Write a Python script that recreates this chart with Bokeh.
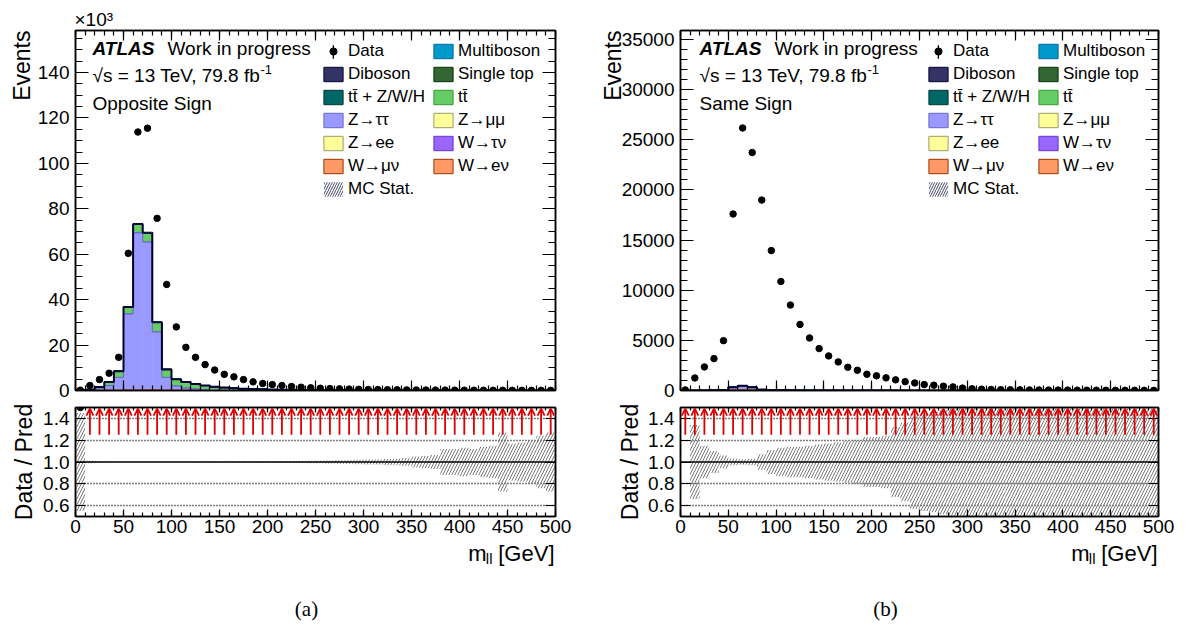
import numpy as np
from bokeh.plotting import figure
from bokeh.models import (Range1d, LinearAxis, FixedTicker, SingleIntervalTicker, Label, Legend,
                          LegendItem, ColumnDataSource, Arrow, OpenHead, Span, NumeralTickFormatter, Title)
from bokeh.layouts import column, row
from bokeh.embed import file_html
from bokeh.resources import INLINE

FONT = "Liberation Sans"

# ---------------- binning ----------------
bin_edges = list(range(0, 501, 10))          # m_ll bins [GeV]
bin_centers = [(a + b) / 2 for a, b in zip(bin_edges[:-1], bin_edges[1:])]

# ---------------- samples (legend order) ----------------
sample_names = ["Multiboson", "Diboson", "Single top", "tt\u0304 + Z/W/H", "tt\u0304",
                "Z\u2192\u03c4\u03c4", "Z\u2192\u03bc\u03bc", "Z\u2192ee",
                "W\u2192\u03c4\u03bd", "W\u2192\u03bc\u03bd", "W\u2192e\u03bd"]
fill_colors = ["#0099cc", "#333366", "#336633", "#006666", "#66cc66",
               "#9999ff", "#ffff99", "#ffff99", "#9966ff", "#ff9966", "#ff9966"]
line_colors = ["#006699", "#000033", "#003300", "#003333", "#339933",
               "#6666cc", "#999966", "#999966", "#6633cc", "#993300", "#993300"]
stack_order = list(reversed(sample_names))   # bottom -> top

# ---------------- (a) Opposite sign, events in units of 10^3 ----------------
data_os = [0.15, 2.2, 4.8, 7.6, 14.6, 60.4, 113.8, 115.5, 75.8, 46.7,
           28.0, 19.0, 14.6, 11.4, 9.0, 7.1, 6.0, 4.8, 3.8, 3.1,
           2.6, 2.2, 1.75, 1.45, 1.2, 1.0, 0.85, 0.72, 0.62, 0.53,
           0.46, 0.40, 0.35, 0.31, 0.27, 0.24, 0.21, 0.19, 0.17, 0.15,
           0.13, 0.12, 0.11, 0.10, 0.09, 0.08, 0.075, 0.07, 0.065, 0.06]
os_ztautau = [0.05, 0.2, 0.6, 2.0, 5.6, 33.5, 69.2, 65.2, 25.6, 5.6,
              1.9, 1.0, 0.6, 0.4, 0.25, 0.2, 0.15, 0.12, 0.1, 0.08,
              0.06, 0.05, 0.04, 0.035, 0.03, 0.025, 0.02, 0.018, 0.015, 0.013,
              0.011, 0.01, 0.009, 0.008, 0.007, 0.006, 0.005, 0.005, 0.004, 0.004,
              0.003, 0.003, 0.003, 0.002, 0.002, 0.002, 0.002, 0.001, 0.001, 0.001]
os_ttbar = [0.03, 0.15, 0.8, 1.5, 2.7, 3.0, 3.8, 4.0, 4.1, 3.5,
            2.8, 2.5, 2.1, 1.7, 1.3, 1.05, 0.82, 0.66, 0.53, 0.41,
            0.35, 0.29, 0.25, 0.21, 0.17, 0.15, 0.13, 0.11, 0.09, 0.08,
            0.07, 0.06, 0.055, 0.05, 0.045, 0.04, 0.035, 0.03, 0.028, 0.025,
            0.022, 0.02, 0.018, 0.016, 0.014, 0.012, 0.011, 0.01, 0.009, 0.008]
os_wmunu = [0.02, 0.05, 0.1, 0.2, 0.2, 0.3, 0.3, 0.3, 0.3, 0.2,
            0.2, 0.2, 0.2, 0.1, 0.05, 0.05, 0.05, 0.04, 0.04, 0.03,
            0.03, 0.03, 0.02, 0.02, 0.02, 0.02, 0.01, 0.01, 0.01, 0.01,
            0.01, 0.005, 0.005, 0.005, 0.005, 0.005, 0.004, 0.004, 0.004, 0.003,
            0.003, 0.003, 0.003, 0.002, 0.002, 0.002, 0.002, 0.002, 0.001, 0.001]
os_stat_relerr = [0.45, 0.012, 0.006, 0.004, 0.003, 0.002, 0.002, 0.002, 0.002, 0.003,
                  0.003, 0.003, 0.004, 0.004, 0.005, 0.005, 0.005, 0.006, 0.006, 0.007,
                  0.007, 0.008, 0.009, 0.01, 0.011, 0.012, 0.013, 0.015, 0.017, 0.02,
                  0.022, 0.024, 0.027, 0.03, 0.035, 0.05, 0.055, 0.065, 0.12, 0.12,
                  0.13, 0.12, 0.14, 0.15, 0.27, 0.17, 0.18, 0.2, 0.24, 0.27]

# ---------------- (b) Same sign, events ----------------
data_ss = [60, 1250, 2350, 3180, 4970, 17600, 26180, 23730, 18990, 13950,
           10870, 8520, 6590, 5240, 4180, 3450, 2850, 2320, 2020, 1620,
           1460, 1260, 1060, 880, 750, 590, 530, 430, 360, 240,
           170, 130, 100, 85, 75, 65, 58, 52, 47, 42,
           38, 34, 31, 28, 25, 23, 21, 19, 17, 15]
ss_ztautau = [0, 0, 3, 10, 25, 230, 360, 230, 35, 8,
              3, 2, 1, 1, 1, 0.5, 0.5, 0.5, 0.3, 0.3,
              0.2, 0.2, 0.2, 0.1, 0.1, 0.1, 0.1, 0.1, 0.05, 0.05,
              0.05, 0.05, 0.03, 0.03, 0.03, 0.02, 0.02, 0.02, 0.02, 0.01,
              0.01, 0.01, 0.01, 0.01, 0.01, 0.01, 0.005, 0.005, 0.005, 0.005]
ss_wmunu = [0, 2, 5, 10, 30, 80, 90, 80, 40, 15,
            8, 5, 4, 3, 2, 2, 1.5, 1.5, 1, 1,
            1, 0.8, 0.6, 0.5, 0.4, 0.3, 0.3, 0.3, 0.2, 0.2,
            0.2, 0.15, 0.15, 0.1, 0.1, 0.1, 0.1, 0.08, 0.08, 0.06,
            0.06, 0.05, 0.05, 0.05, 0.04, 0.04, 0.03, 0.03, 0.03, 0.02]
ss_ttbar = [0, 1, 2, 3, 5, 10, 15, 15, 15, 12,
            10, 8, 6, 5, 4, 3, 3, 2.5, 2, 2,
            1.5, 1.5, 1.2, 1, 1, 0.8, 0.7, 0.6, 0.5, 0.5,
            0.4, 0.4, 0.3, 0.3, 0.25, 0.2, 0.2, 0.2, 0.15, 0.15,
            0.12, 0.1, 0.1, 0.1, 0.08, 0.08, 0.06, 0.06, 0.05, 0.05]
ss_stat_relerr = [0.0, 0.34, 0.15, 0.10, 0.06, 0.03, 0.025, 0.03, 0.07, 0.11,
                  0.13, 0.14, 0.14, 0.15, 0.16, 0.17, 0.18, 0.19, 0.2, 0.23,
                  0.23, 0.24, 0.32, 0.36, 0.43, 0.45, 0.46, 0.48, 0.6, 0.7,
                  0.75, 0.8, 0.85, 0.9, 0.9, 0.95, 1.0, 1.0, 1.0, 1.0,
                  1.0, 1.0, 1.0, 1.0, 1.0, 1.0, 1.0, 1.0, 1.0, 1.0]

os_mc = {"Z\u2192\u03c4\u03c4": os_ztautau, "tt\u0304": os_ttbar, "W\u2192\u03bc\u03bd": os_wmunu}
ss_mc = {"Z\u2192\u03c4\u03c4": ss_ztautau, "tt\u0304": ss_ttbar, "W\u2192\u03bc\u03bd": ss_wmunu}

FC = dict(zip(sample_names, fill_colors))
LC = dict(zip(sample_names, line_colors))


def style_axis(ax, major_in, minor_in, show_labels, standoff=6):
    ax.major_tick_in = major_in
    ax.major_tick_out = 0
    ax.minor_tick_in = minor_in
    ax.minor_tick_out = 0
    ax.axis_line_color = "black"
    ax.axis_line_width = 1.5
    ax.major_tick_line_color = "black"
    ax.minor_tick_line_color = "black"
    ax.major_tick_line_width = 1.2
    ax.minor_tick_line_width = 1.2
    if show_labels:
        ax.major_label_text_font = FONT
        ax.major_label_text_font_size = "19px"
        ax.major_label_text_color = "black"
        ax.major_label_standoff = standoff
    else:
        ax.major_label_text_font_size = "0px"
        ax.major_label_text_alpha = 0
        ax.major_label_standoff = 0


def add_text(p, x, y, text, size="19px", style="normal", align="left", units="screen"):
    p.add_layout(Label(x=x, y=y, x_units=units, y_units=units, text=text,
                       text_font=FONT, text_font_size=size, text_font_style=style,
                       text_align=align, text_baseline="middle", text_color="black"))


def add_title(p, side, text, size="23px", align="center", offset=0, standoff=0):
    p.add_layout(Title(text=text, align=align, offset=offset, standoff=standoff, text_font=FONT,
                       text_font_size=size, text_font_style="normal", text_color="black"), side)


def make_main(data, mc, relerr, err_scale, ymax, y_tick, y_minor, region, fw, bl, br, tdx,
              times_ten, ylab_standoff):
    p = figure(frame_width=fw, frame_height=360, x_range=Range1d(0, 500), y_range=Range1d(0, ymax),
               min_border_left=bl, min_border_right=br, min_border_top=30, min_border_bottom=11,
               output_backend="svg", toolbar_location=None)
    p.background_fill_color = "white"
    p.border_fill_color = "white"
    p.outline_line_color = "black"
    p.outline_line_width = 1.5
    p.xgrid.visible = False
    p.ygrid.visible = False
    xt = SingleIntervalTicker(interval=50, num_minor_ticks=5)
    yt = SingleIntervalTicker(interval=y_tick, num_minor_ticks=y_minor)
    p.xaxis.ticker = xt
    p.yaxis.ticker = yt
    style_axis(p.xaxis[0], 10, 5, False)
    style_axis(p.yaxis[0], 13, 7, True, standoff=6)
    top = LinearAxis(ticker=xt)
    style_axis(top, 10, 5, False)
    p.add_layout(top, "above")
    rgt = LinearAxis(ticker=yt)
    style_axis(rgt, 13, 7, False)
    p.add_layout(rgt, "right")

    lefts = np.array(bin_edges[:-1], dtype=float)
    rights = np.array(bin_edges[1:], dtype=float)
    base = np.zeros(len(lefts))
    caps = {}
    outlines = []
    for name in stack_order:
        vals = np.array(mc[name], dtype=float) if name in mc else np.zeros(len(lefts))
        tops = base + vals
        if vals.any():
            p.quad(left=lefts, right=rights, bottom=base, top=tops,
                   fill_color=FC[name], line_color=FC[name], line_width=0.5)
            outlines.append((name, tops))
        caps[name] = p.quad(left=lefts, right=rights, bottom=tops, top=tops,
                            fill_color=FC[name], line_color=LC[name], line_width=1)
        base = tops
    for name, tops in outlines:
        p.step(x=bin_edges, y=list(tops) + [tops[-1]], mode="after",
               line_color=LC[name], line_width=1)
    total = base
    p.step(x=bin_edges, y=list(total) + [total[-1]], mode="after",
           line_color="#000033", line_width=2)
    rel = np.array(relerr)
    band = p.quad(left=lefts, right=rights, bottom=total * (1 - rel), top=total * (1 + rel),
                  fill_alpha=0, line_alpha=0, hatch_pattern="/", hatch_color="#444466",
                  hatch_scale=5, hatch_weight=1)
    d = np.array(data, dtype=float)
    err = np.sqrt(d * err_scale) / err_scale
    errbar = p.vbar(x=bin_centers, width=0.3, bottom=d - err, top=d + err,
                    fill_color="black", line_alpha=0)
    dots = p.scatter(bin_centers, data, marker="circle", size=6.5, color="black")

    col1 = [("Data", [dots]), ("Diboson", [caps["Diboson"]]),
            ("tt\u0304 + Z/W/H", [caps["tt\u0304 + Z/W/H"]]),
            ("Z\u2192\u03c4\u03c4", [caps["Z\u2192\u03c4\u03c4"]]),
            ("Z\u2192ee", [caps["Z\u2192ee"]]),
            ("W\u2192\u03bc\u03bd", [caps["W\u2192\u03bc\u03bd"]]),
            ("MC Stat.", [band])]
    col2 = [("Multiboson", [caps["Multiboson"]]), ("Single top", [caps["Single top"]]),
            ("tt\u0304", [caps["tt\u0304"]]), ("Z\u2192\u03bc\u03bc", [caps["Z\u2192\u03bc\u03bc"]]),
            ("W\u2192\u03c4\u03bd", [caps["W\u2192\u03c4\u03bd"]]),
            ("W\u2192e\u03bd", [caps["W\u2192e\u03bd"]])]

    def mk_legend(items, loc, gw=24, gh=18):
        lg = Legend(items=[LegendItem(label=l, renderers=r) for l, r in items], location=loc,
                    glyph_width=gw, glyph_height=gh, label_height=20, spacing=3, label_standoff=3,
                    padding=0, margin=0, border_line_alpha=0, background_fill_alpha=0,
                    label_text_font=FONT, label_text_font_size="17px", label_text_color="black")
        p.add_layout(lg)

    mk_legend(col1, (246, 191))
    mk_legend(col2, (356, 214))
    mk_legend([(" ", [errbar])], (257, 329), gw=2, gh=17)

    add_text(p, tdx, 342, "ATLAS", style="bold italic")
    add_text(p, tdx + 75, 342, "Work in progress")
    add_text(p, tdx, 315, "\u221as = 13 TeV, 79.8 fb")
    add_text(p, tdx + 168, 321, "-1", size="13px")
    add_text(p, tdx, 287, region)
    add_title(p, "left", "Events", align="right", standoff=ylab_standoff)
    if times_ten:
        add_title(p, "above", "\u00d710\u00b3", size="19px", align="left", offset=-1, standoff=2)
    return p, total


def make_ratio(data, total, relerr, fw, bl, br, ylab_standoff):
    p = figure(frame_width=fw, frame_height=109, x_range=Range1d(0, 500), y_range=Range1d(0.5, 1.5),
               min_border_left=bl, min_border_right=br, min_border_top=6, min_border_bottom=24,
               output_backend="svg", toolbar_location=None)
    p.background_fill_color = "white"
    p.border_fill_color = "white"
    p.outline_line_color = "black"
    p.outline_line_width = 1.5
    p.xgrid.visible = False
    p.ygrid.ticker = FixedTicker(ticks=[0.6, 0.8, 1.2, 1.4])
    p.ygrid.grid_line_color = "black"
    p.ygrid.grid_line_dash = "1 2"
    p.ygrid.grid_line_width = 1.3
    xt = SingleIntervalTicker(interval=50, num_minor_ticks=5)
    yt = FixedTicker(ticks=[0.6, 0.8, 1.0, 1.2, 1.4])
    p.xaxis.ticker = xt
    p.yaxis.ticker = yt
    p.yaxis.formatter = NumeralTickFormatter(format="0.0")
    style_axis(p.xaxis[0], 7, 4, True, standoff=3)
    style_axis(p.yaxis[0], 10, 5, True, standoff=6)
    top = LinearAxis(ticker=xt)
    style_axis(top, 5, 3, False)
    p.add_layout(top, "above")
    rgt = LinearAxis(ticker=yt)
    style_axis(rgt, 10, 5, False)
    p.add_layout(rgt, "right")

    lefts = np.array(bin_edges[:-1], dtype=float)
    rights = np.array(bin_edges[1:], dtype=float)
    rel = np.array(relerr)
    p.quad(left=lefts, right=rights, bottom=1 - rel, top=1 + rel, fill_alpha=0, line_alpha=0,
           hatch_pattern="/", hatch_color="#777777", hatch_scale=6, hatch_weight=1)
    p.add_layout(Span(location=1.0, dimension="width", line_color="black", line_width=1.5))

    d = np.array(data, dtype=float)
    ratio = np.where(total > 0, d / np.where(total > 0, total, 1), np.inf)
    cen = np.array(bin_centers)
    up = ratio > 1.5
    inside = (ratio <= 1.5) & (ratio >= 0.5)
    p.scatter(cen[inside], ratio[inside], marker="circle", size=6.5, color="black")
    n = int(up.sum())
    src = ColumnDataSource(dict(x=cen[up], y0=[1.25] * n, y1=[1.49] * n))
    p.add_layout(Arrow(end=OpenHead(size=7, line_color="#dd0000", line_width=1.8),
                       x_start="x", y_start="y0", x_end="x", y_end="y1", source=src,
                       line_color="#dd0000", line_width=1.8))
    add_title(p, "left", "Data / Pred", align="center", standoff=ylab_standoff)
    return p


mainL, totL = make_main(data_os, os_mc, os_stat_relerr, 1000.0, 158.5, 20, 4, "Opposite Sign",
                        480, 75, 25, 17, True, 0)
ratioL = make_ratio(data_os, totL, os_stat_relerr, 480, 75, 25, 8)
mainR, totR = make_main(data_ss, ss_mc, ss_stat_relerr, 1.0, 35900, 5000, 5, "Same Sign",
                        478, 100, 28, 19, False, -15)
ratioR = make_ratio(data_ss, totR, ss_stat_relerr, 478, 100, 28, 6)

# bottom strip: x-axis titles and sub-figure captions (page pixel coordinates)
cap = figure(width=1186, height=86, x_range=Range1d(0, 1186), y_range=Range1d(0, 86),
             x_axis_type=None, y_axis_type=None, min_border=0,
             output_backend="svg", toolbar_location=None)
cap.outline_line_color = None
cap.grid.visible = False
for right_edge in (554, 1157):
    add_text(cap, right_edge, 73, "[GeV]", size="22px", align="right", units="data")
    add_text(cap, right_edge - 62, 68, "ll", size="15px", align="right", units="data")
    add_text(cap, right_edge - 68, 73, "m", size="22px", align="right", units="data")
cap.add_layout(Label(x=306, y=18, text="(a)", text_font="Liberation Serif", text_font_size="21px",
                     text_align="center", text_baseline="middle", text_color="black"))
cap.add_layout(Label(x=885, y=18, text="(b)", text_font="Liberation Serif", text_font_size="21px",
                     text_align="center", text_baseline="middle", text_color="black"))

layout = column(row(column(mainL, ratioL), column(mainR, ratioR)), cap)
open("out.html", "w").write(file_html(layout, INLINE))
